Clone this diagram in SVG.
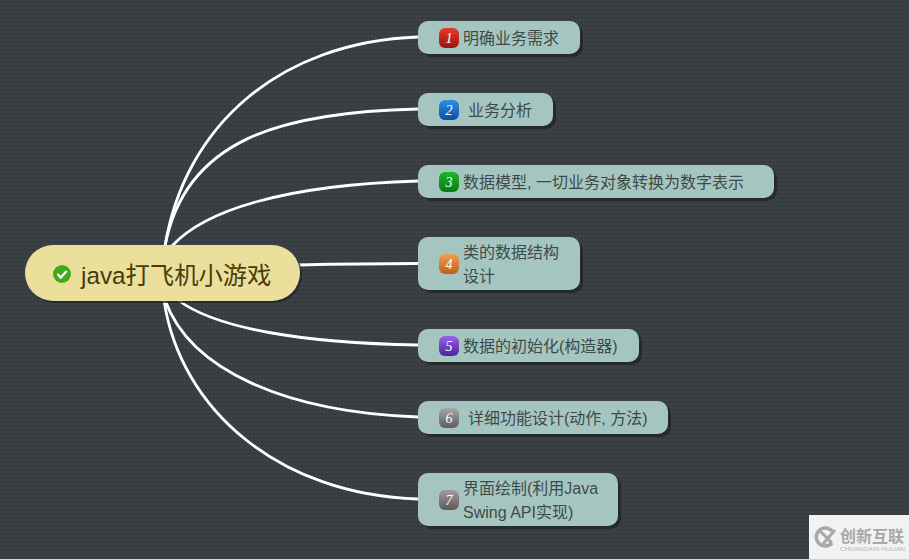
<svg xmlns="http://www.w3.org/2000/svg" width="909" height="559" viewBox="0 0 909 559">
<style>
.t{font-family:"Liberation Sans","Noto Sans CJK SC",sans-serif;font-size:16px;fill:#3e4a49}
.n{fill:#a5c6c0}
.s{fill:#22272a;opacity:.85}
.c{fill:none;stroke:#fff;stroke-width:2.800}
.i{font-family:"Liberation Serif",serif;font-size:14px;font-style:italic;fill:#fff;text-anchor:middle}
</style>
<defs>
<pattern id="bg" width="4" height="4" patternUnits="userSpaceOnUse"><rect width="4" height="4" fill="#3a4043"/><rect x="1" y="1" width="2" height="2" fill="#33393c"/></pattern>
<linearGradient id="g1" x1="0" y1="0" x2="0" y2="1"><stop offset="0" stop-color="#e8392a"/><stop offset="1" stop-color="#9c1212"/></linearGradient>
<linearGradient id="g2" x1="0" y1="0" x2="0" y2="1"><stop offset="0" stop-color="#2b8fe6"/><stop offset="1" stop-color="#0a4fa3"/></linearGradient>
<linearGradient id="g3" x1="0" y1="0" x2="0" y2="1"><stop offset="0" stop-color="#1fb52a"/><stop offset="1" stop-color="#0a7a14"/></linearGradient>
<linearGradient id="g4" x1="0" y1="0" x2="0" y2="1"><stop offset="0" stop-color="#f0a050"/><stop offset="1" stop-color="#c0601a"/></linearGradient>
<linearGradient id="g5" x1="0" y1="0" x2="0" y2="1"><stop offset="0" stop-color="#9a62e8"/><stop offset="1" stop-color="#4a22a0"/></linearGradient>
<linearGradient id="g6" x1="0" y1="0" x2="0" y2="1"><stop offset="0" stop-color="#a8a8a8"/><stop offset="1" stop-color="#5c5c5c"/></linearGradient>
<linearGradient id="g7" x1="0" y1="0" x2="0" y2="1"><stop offset="0" stop-color="#a59a9a"/><stop offset="1" stop-color="#5e5a5a"/></linearGradient>
</defs>
<rect width="909" height="559" fill="url(#bg)"/>
<g id="connectors">
<path class="c" d="M165 246C185 125 280 42 418 37"/>
<path class="c" d="M165 246C185 140 280 112 418 109"/>
<path class="c" d="M172 246C205 210 285 185 418 181"/>
<path class="c" d="M298 265C340 264 380 263.500 418 263.500"/>
<path class="c" d="M178 300C215 328 300 343 418 345"/>
<path class="c" d="M165 300C190 370 285 412 418 417"/>
<path class="c" d="M164 300C180 410 280 495 418 499"/>
</g>
<g id="root">
<rect x="27" y="247" width="275" height="56" rx="28" fill="#22272a" opacity=".8"/>
<rect x="25" y="245" width="275" height="56" rx="28" fill="#ebdf9c"/>
<circle cx="62" cy="274" r="9" fill="#3faa1c"/>
<path d="M57.500 274l3.200 3.500 6-6.500" fill="none" stroke="#fff" stroke-width="2.200"/>
<text x="81" y="284" style="font-family:'Liberation Sans','Noto Sans CJK SC',sans-serif;font-size:24.300px;fill:#4a3c0a">java打飞机小游戏</text>
</g>
<g id="node1">
<rect class="s" x="421" y="24" width="162" height="33" rx="10"/><rect class="n" x="418" y="21" width="162" height="33" rx="10"/>
<rect x="439" y="28" width="20" height="20" rx="6" fill="url(#g1)"/><text class="i" x="449" y="43">1</text>
<text class="t" x="463" y="44">明确业务需求</text>
</g>
<g id="node2">
<rect class="s" x="421" y="96" width="135" height="33" rx="10"/><rect class="n" x="418" y="93" width="135" height="33" rx="10"/>
<rect x="439" y="100" width="20" height="20" rx="6" fill="url(#g2)"/><text class="i" x="449" y="115">2</text>
<text class="t" x="468" y="116">业务分析</text>
</g>
<g id="node3">
<rect class="s" x="421" y="168" width="356" height="33" rx="10"/><rect class="n" x="418" y="165" width="356" height="33" rx="10"/>
<rect x="439" y="172" width="20" height="20" rx="6" fill="url(#g3)"/><text class="i" x="449" y="187">3</text>
<text class="t" x="463" y="188">数据模型, 一切业务对象转换为数字表示</text>
</g>
<g id="node4">
<rect class="s" x="421" y="240" width="162" height="53" rx="10"/><rect class="n" x="418" y="237" width="162" height="53" rx="10"/>
<rect x="439" y="254" width="20" height="20" rx="6" fill="url(#g4)"/><text class="i" x="449" y="269">4</text>
<text class="t" x="463" y="258">类的数据结构</text><text class="t" x="463" y="282">设计</text>
</g>
<g id="node5">
<rect class="s" x="421" y="332" width="221" height="33" rx="10"/><rect class="n" x="418" y="329" width="221" height="33" rx="10"/>
<rect x="439" y="336" width="20" height="20" rx="6" fill="url(#g5)"/><text class="i" x="449" y="351">5</text>
<text class="t" x="463" y="352">数据的初始化(构造器)</text>
</g>
<g id="node6">
<rect class="s" x="421" y="404" width="250" height="33" rx="10"/><rect class="n" x="418" y="401" width="250" height="33" rx="10"/>
<rect x="439" y="408" width="20" height="20" rx="6" fill="url(#g6)"/><text class="i" x="449" y="423">6</text>
<text class="t" x="468" y="424">详细功能设计(动作, 方法)</text>
</g>
<g id="node7">
<rect class="s" x="421" y="476" width="200" height="53" rx="10"/><rect class="n" x="418" y="473" width="200" height="53" rx="10"/>
<rect x="439" y="490" width="20" height="20" rx="6" fill="url(#g7)"/><text class="i" x="449" y="505">7</text>
<text class="t" x="463" y="494">界面绘制(利用Java</text><text class="t" x="463" y="518">Swing API实现)</text>
</g>
<g id="watermark">
<rect x="809" y="515" width="100" height="44" fill="#f2f2f2"/>
<path d="M832 531A9 9 0 1 0 832 543" fill="none" stroke="#a8a8a8" stroke-width="3.500"/>
<path d="M820 531l12 12M835 530l-12 14" stroke="#a8a8a8" stroke-width="3" fill="none"/>
<text x="840" y="542" style="font-family:'Noto Sans CJK SC',sans-serif;font-size:16px;font-weight:700;fill:#a8a8a8">创新互联</text>
<text x="840" y="551" textLength="65" lengthAdjust="spacingAndGlyphs" style="font-family:'Liberation Sans',sans-serif;font-size:5px;fill:#b4b4b4">CHUANGXIN HULIAN</text>
</g>
</svg>
